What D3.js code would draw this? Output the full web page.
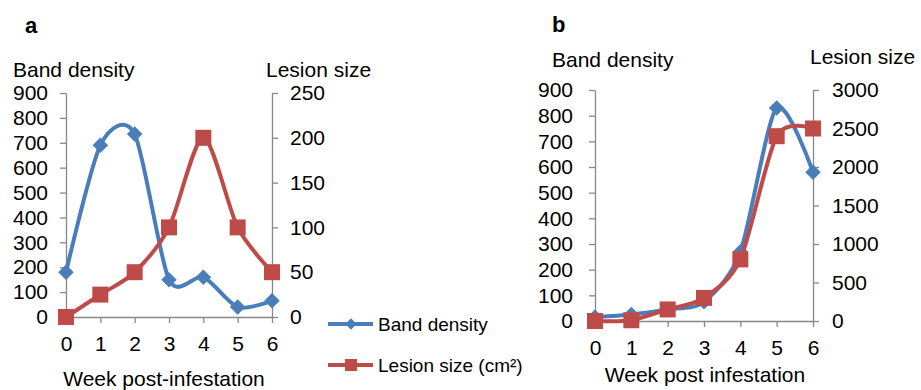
<!DOCTYPE html>
<html><head><meta charset="utf-8">
<script src="https://cdn.jsdelivr.net/npm/d3@7"></script>
<style>
body{margin:0;background:#fff;}
svg text{font-family:"Liberation Sans",Arial,Helvetica,sans-serif;fill:#000;}
</style></head>
<body><svg id="c" width="921" height="390"></svg>
<script>
const weeks = [0,1,2,3,4,5,6];
const bandTicks = [0,100,200,300,400,500,600,700,800,900];
// Panel a
const bandA = [180,690,735,150,160,40,65];
const lesionA = [0,25,50,100,200,100,50];
const lesionTicksA = [0,50,100,150,200,250];
// Panel b
const bandB = [15,25,45,75,270,830,580];
const lesionB = [0,10,150,300,800,2400,2500];
const lesionTicksB = [0,500,1000,1500,2000,2500,3000];

const blue = "#4A7EBB", red = "#BE4B48", gray = "#888888";
const svg = d3.select("#c");

function panel(o){
  const g = svg.append("g");
  const x = d3.scalePoint().domain(weeks).range([o.x0,o.x1]).padding(0);
  const yL = d3.scaleLinear().domain([0,900]).range([o.yb,o.yt]);
  const yR = d3.scaleLinear().domain([0,o.rMax]).range([o.yb,o.yt]);

  const styleAxis = sel => {
    sel.selectAll("path,line").attr("stroke",gray).attr("stroke-width",1.3);
    sel.selectAll("text").attr("font-size",21).attr("font-family",null).attr("fill","#000");
  };
  g.append("g").attr("transform",`translate(${o.x0},0)`)
    .call(d3.axisLeft(yL).tickValues(bandTicks).tickFormat(d3.format("d")).tickSize(6).tickSizeOuter(0).tickPadding(o.padL))
    .call(styleAxis);
  g.append("g").attr("transform",`translate(${o.x1},0)`)
    .call(d3.axisRight(yR).tickValues(o.rTicks).tickFormat(d3.format("d")).tickSize(6).tickSizeOuter(0).tickPadding(o.padR))
    .call(styleAxis);
  g.append("g").attr("transform",`translate(0,${o.yb})`)
    .call(d3.axisBottom(x).tickSize(6).tickSizeOuter(0).tickPadding(13))
    .call(styleAxis);

  const curve = d3.curveCardinal.tension(0.2);
  const lb = d3.line().x((d,i)=>x(weeks[i])).y(d=>yL(d)).curve(curve);
  const lr = d3.line().x((d,i)=>x(weeks[i])).y(d=>yR(d)).curve(curve);
  g.append("path").attr("d",lb(o.band)).attr("fill","none").attr("stroke",blue).attr("stroke-width",4);
  g.selectAll(".dm").data(o.band).join("path")
    .attr("transform",(d,i)=>`translate(${x(weeks[i])},${yL(d)}) rotate(45)`)
    .attr("d","M-5.5,-5.5H5.5V5.5H-5.5Z").attr("fill",blue);
  g.append("path").attr("d",lr(o.lesion)).attr("fill","none").attr("stroke",red).attr("stroke-width",4);
  g.selectAll(".sq").data(o.lesion).join("rect")
    .attr("x",(d,i)=>x(weeks[i])-8).attr("y",d=>yR(d)-8)
    .attr("width",16).attr("height",16).attr("fill",red);

  g.append("text").attr("x",o.letterX).attr("y",o.letterY).attr("font-size",22).attr("font-weight","bold").text(o.letter);
  g.append("text").attr("x",o.bdX).attr("y",o.bdY).attr("font-size",21).text("Band density");
  g.append("text").attr("x",o.lsX).attr("y",o.lsY).attr("font-size",21).text("Lesion size");
  g.append("text").attr("x",o.xtX).attr("y",o.xtY).attr("font-size",21).attr("text-anchor","middle").text(o.xTitle);
}

panel({x0:66,x1:272,yb:317,yt:93,rMax:250,rTicks:lesionTicksA,band:bandA,lesion:lesionA,
  padL:12,padR:12,letter:"a",letterX:25,letterY:33,bdX:13,bdY:77,lsX:266,lsY:77,
  xtX:164,xtY:386,xTitle:"Week post-infestation"});
panel({x0:595,x1:813,yb:321,yt:90,rMax:3000,rTicks:lesionTicksB,band:bandB,lesion:lesionB,
  padL:16,padR:13,letter:"b",letterX:552,letterY:32,bdX:552,bdY:67,lsX:810,lsY:64,
  xtX:705,xtY:382,xTitle:"Week post infestation"});

// legend
const lg = svg.append("g");
const legendItems = [{name:"Band density",color:blue,shape:"d",y:324},{name:"Lesion size (cm²)",color:red,shape:"s",y:365}];
legendItems.forEach(it=>{
  lg.append("line").attr("x1",328).attr("x2",373).attr("y1",it.y).attr("y2",it.y).attr("stroke",it.color).attr("stroke-width",4);
  if(it.shape==="d"){
    lg.append("path").attr("transform",`translate(351,${it.y}) rotate(45)`).attr("d","M-4,-4H4V4H-4Z").attr("fill",it.color);
  } else {
    lg.append("rect").attr("x",345).attr("y",it.y-6).attr("width",12).attr("height",12).attr("fill",it.color);
  }
  lg.append("text").attr("x",378).attr("y",it.y+7).attr("font-size",19).text(it.name);
});
</script></body></html>
